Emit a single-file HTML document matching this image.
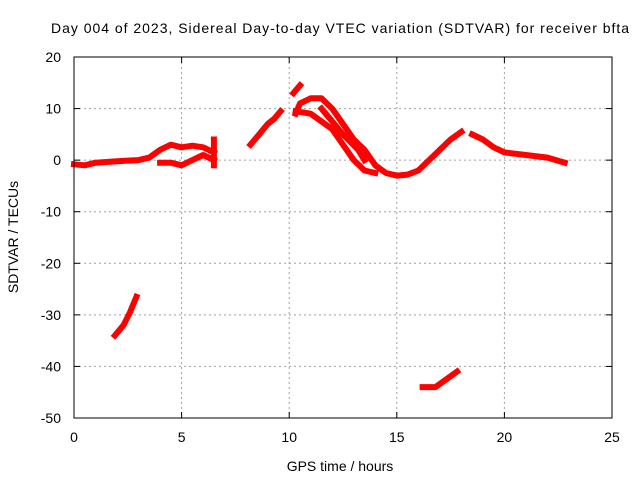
<!DOCTYPE html>
<html><head><meta charset="utf-8"><style>
body{margin:0;background:#fff}
svg{display:block;font-family:"Liberation Sans",sans-serif;}
</style></head><body>
<svg id="chart" width="640" height="480" viewBox="0 0 640 480">
<text x="340" y="33" font-size="14" text-anchor="middle" textLength="578" lengthAdjust="spacing">Day 004 of 2023, Sidereal Day-to-day VTEC variation (SDTVAR) for receiver bfta</text>
<text x="340" y="471" font-size="14" text-anchor="middle">GPS time / hours</text>
<text x="18" y="237" font-size="14" text-anchor="middle" transform="rotate(-90 18 237)">SDTVAR / TECUs</text>
<g id="grid"></g><g id="ticks"></g><g id="marks"></g>
<rect x="74" y="57" width="538" height="361" fill="none" stroke="#000" stroke-width="1"/>
</svg>
<script>
const xTicks=[0,5,10,15,20,25];
const yTicks=[20,10,0,-10,-20,-30,-40,-50];
const segA_h=[0,0.5,1,2,3,3.5,4,4.5,5,5.5,6,6.5];
const segA_v=[-0.8,-1,-0.5,-0.2,0,0.5,2,3,2.5,2.8,2.5,1.5];
const segA2_h=[4,4.5,5,5.5,6,6.5];
const segA2_v=[-0.5,-0.5,-1,0,1,0];
const segS_h=[6.5,6.5];
const segS_v=[-1,4];
const segB_h=[8.2,8.6,9,9.3,9.6];
const segB_v=[3,5,7,8,9.5];
const segC_h=[10.2,10.5];
const segC_v=[13,14.5];
const segD_h=[10.3,10.5,11,11.5,12,12.5,13,13.5,14,14.5,15,15.5,16,16.5,17,17.5,18];
const segD_v=[9,11,12,12,10,7,4,2,-1,-2.5,-3,-2.8,-2,0,2,4,5.5];
const segD2_h=[10.3,11,12,12.5,13,13.5,14];
const segD2_v=[9.5,9,6,3,0,-2,-2.5];
const segD3_h=[11.5,12.5,13.2,13.5];
const segD3_v=[10,5,2,0];
const segE_h=[18.5,19,19.5,20,21,22,22.8];
const segE_v=[5,4,2.5,1.5,1,0.5,-0.5];
const segF_h=[1.9,2.3,2.6,2.9];
const segF_v=[-34,-32,-29.5,-26.5];
const segG_h=[16.2,16.8,17.3,17.8];
const segG_v=[-44,-44,-42.5,-41];
const segments=[[segA_h,segA_v],[segA2_h,segA2_v],[segS_h,segS_v],[segB_h,segB_v],[segC_h,segC_v],[segD_h,segD_v],[segD2_h,segD2_v],[segD3_h,segD3_v],[segE_h,segE_v],[segF_h,segF_v],[segG_h,segG_v]];
const X0=74,X1=612,Y0=57,Y1=418;
function sx(h){return X0+(h-0)/25*(X1-X0);}
function sy(v){return Y0+(20-v)/70*(Y1-Y0);}
const NS="http://www.w3.org/2000/svg";
const grid=document.getElementById('grid'),ticks=document.getElementById('ticks'),marks=document.getElementById('marks');
function mk(tag,attrs,parent){const e=document.createElementNS(NS,tag);for(const k in attrs)e.setAttribute(k,attrs[k]);parent.appendChild(e);return e;}
xTicks.forEach(t=>{const x=sx(t);
 if(t>0&&t<25){const g=mk('line',{x1:x,x2:x,y1:Y0,y2:Y1,stroke:'#a0a0a0','stroke-dasharray':'2,3'},grid);
 
 }
 const l=mk('text',{x:x,y:Y1+24,'font-size':14,'text-anchor':'middle'},ticks);l.textContent=t;
 
 
 mk('line',{x1:x,x2:x,y1:Y1,y2:Y1-6,stroke:'#000'},ticks);mk('line',{x1:x,x2:x,y1:Y0,y2:Y0+6,stroke:'#000'},ticks);});
yTicks.forEach(t=>{const y=sy(t);
 if(t<20&&t>-50){const g=mk('line',{x1:X0,x2:X1,y1:y,y2:y,stroke:'#a0a0a0','stroke-dasharray':'2,3'},grid);
 
 }
 const l=mk('text',{x:X0-13,y:y+5,'font-size':14,'text-anchor':'end'},ticks);l.textContent=t;
 
 
 mk('line',{x1:X0,x2:X0+6,y1:y,y2:y,stroke:'#000'},ticks);mk('line',{x1:X1,x2:X1-6,y1:y,y2:y,stroke:'#000'},ticks);});
segments.forEach(s=>{const pts=s[0].map((h,i)=>sx(h).toFixed(1)+','+sy(s[1][i]).toFixed(1)).join(' ');
 const p=mk('polyline',{points:pts,fill:'none',stroke:'#ff0000','stroke-width':6,'stroke-linejoin':'round','stroke-linecap':'square'},marks);
 
 });
</script>
</body></html>
